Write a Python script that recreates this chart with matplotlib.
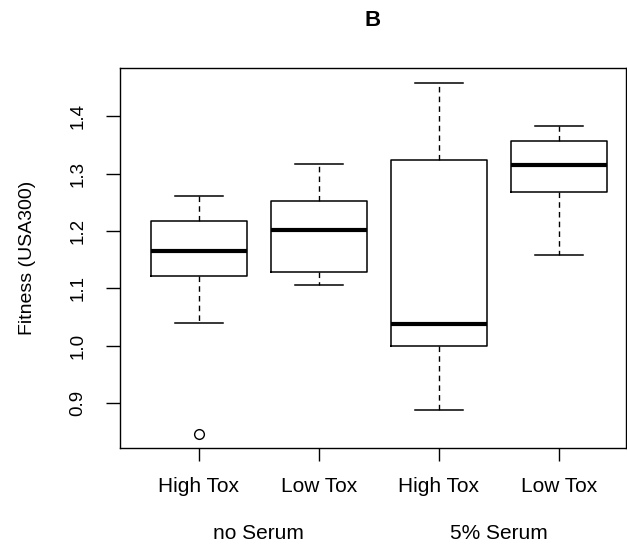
import matplotlib.pyplot as plt

plt.rcParams['font.family'] = ['Liberation Sans', 'DejaVu Sans']

# box statistics
labels = ['High Tox', 'Low Tox', 'High Tox', 'Low Tox']
whislo = [1.040, 1.105, 0.888, 1.158]
q1 = [1.121, 1.129, 1.000, 1.267]
med = [1.165, 1.202, 1.038, 1.314]
q3 = [1.217, 1.252, 1.323, 1.357]
whishi = [1.261, 1.317, 1.458, 1.383]
fliers = [[0.846], [], [], []]
groups = ['no Serum', '5% Serum']
yticks = [0.9, 1.0, 1.1, 1.2, 1.3, 1.4]

stats = []
for i in range(len(labels)):
    stats.append(dict(whislo=whislo[i], q1=q1[i], med=med[i], q3=q3[i],
                      whishi=whishi[i], fliers=fliers[i], label=labels[i]))

fig = plt.figure(figsize=(6.27, 5.48), dpi=100)
ax = fig.add_axes([120 / 627, 100 / 548, 506 / 627, 380 / 548])

positions = [1, 2, 3, 4]
ax.bxp(stats, positions=positions, widths=0.8,
       boxprops=dict(color='black', linewidth=1.1),
       medianprops=dict(color='black', linewidth=3),
       whiskerprops=dict(color='black', linewidth=1.0, linestyle=(0, (4, 3))),
       capprops=dict(color='black', linewidth=1.1),
       capwidths=0.4,
       flierprops=dict(marker='o', markerfacecolor='none', markeredgecolor='black',
                       markersize=7, markeredgewidth=1.0))

ax.set_xlim(0.344, 4.56)
ax.set_ylim(0.8218, 1.4838)
ax.set_yticks(yticks)
ax.set_yticklabels([f'{v:.1f}' for v in yticks], rotation=90, va='center')
ax.set_xticks(positions)
ax.set_xticklabels(labels)
ax.tick_params(axis='y', length=10, pad=14, labelsize=13.5, width=1)
ax.tick_params(axis='x', length=9, pad=12, labelsize=15, width=1)
for s in ax.spines.values():
    s.set_linewidth(1.0)

ax.set_ylabel('Fitness (USA300)', fontsize=14, labelpad=24)
ax.set_title('B', fontsize=16, fontweight='bold', pad=30)

for i, g in enumerate(groups):
    ax.text(1.5 + 2 * i, -0.225, g, transform=ax.get_xaxis_transform(),
            ha='center', va='center', fontsize=15)

fig.savefig('out.png', dpi=100)
